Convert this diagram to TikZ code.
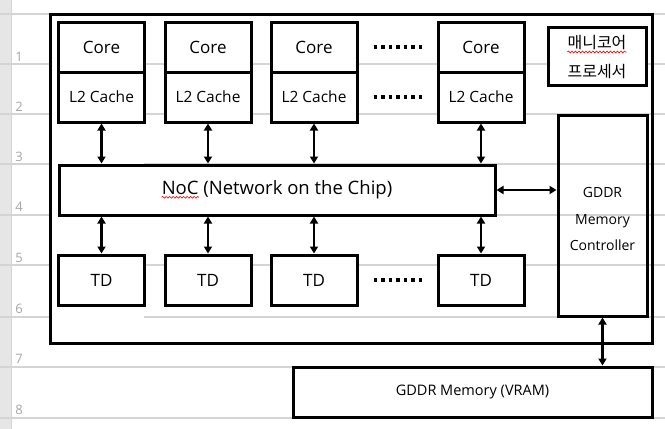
\documentclass[tikz,border=0pt]{standalone}
\usepackage{fontspec}
\setmainfont{Open Sans}
\newfontfamily\krfont{Noto Sans CJK KR}
\usetikzlibrary{arrows.meta,decorations.pathmorphing}
\definecolor{gridc}{HTML}{D4D4D4}
\definecolor{hdrc}{HTML}{E6E6E6}
\definecolor{hdrtxt}{HTML}{A6A6A6}
\tikzset{
  blk/.style={draw, line width=3pt, inner sep=0pt, fill=white},
  cellbox/.style={blk, minimum width=86, minimum height=50},
  coretxt/.style={font=\fontsize{17}{20}\selectfont},
  l2txt/.style={font=\fontsize{15.5}{18}\selectfont},
  dbl/.style={{Triangle[length=7pt,width=8pt]}-{Triangle[length=7pt,width=8pt]}, line width=2.5pt},
  dotsline/.style={line width=3.5pt, dash pattern=on 3.5pt off 4pt},
  gridline/.style={gridc, line width=1.5pt},
  rownum/.style={text=hdrtxt, font=\fontsize{13}{15}\selectfont, anchor=base, inner sep=0pt},
  squig/.style={red, line width=0.6pt, decorate, decoration={snake, segment length=3.5pt, amplitude=0.9pt}},
  nocfont/.style={font=\fontsize{18.5}{22}\selectfont},
  krtxt/.style={font=\krfont\fontsize{16}{19}\selectfont, inner sep=0pt}
}
\begin{document}
\begin{tikzpicture}[x=1pt,y=-1pt]
\useasboundingbox (0,0) rectangle (665,429);
\fill[white] (0,0) rectangle (665,429);
\fill[hdrc] (0,0) rectangle (11,429);
\draw[gridc, line width=1pt] (11,0) -- (11,429);
\foreach \yy in {14,64,114,164,215,265,317,367,418}
  \draw[gridline] (0,\yy) -- (665,\yy);
\foreach \n/\yy in {1/61,2/111,3/161,4/211,5/262,6/313,7/363,8/414}
  \node[rownum] (r\n) at (19,\yy) {\n};
\fill[white] (50,14) rectangle (144,343);
% outer frame
\node[draw, line width=3pt, inner sep=0pt, minimum width=602, minimum height=329] (outer) at (351,178.5) {};
% cores
\foreach \i/\cx in {1/101.5,2/208,3/314,4/481}{
  \node[cellbox, coretxt] (core\i) at (\cx,47) {Core};
  \node[cellbox, l2txt] (l2\i) at (\cx,97) {L2 Cache};
  \node[cellbox, coretxt] (td\i) at (\cx,280) {TD};
}
% NoC
\node[blk, minimum width=436, minimum height=50] (noc) at (277,190) {};
\node[nocfont, inner sep=0pt] (noclbl) at (noc.center) {NoC (Network on the Chip)};
\node[nocfont, inner sep=0pt, anchor=base west] (nocword) at (noclbl.base west) {\phantom{NoC}};
\draw[squig] ([yshift=-2.5pt]nocword.base west) -- ([yshift=-2.5pt]nocword.base east);
% many-core label
\node[blk, minimum width=98, minimum height=58] (mc) at (597,56) {};
\node[krtxt] (mc1) at (597,43) {매니코어};
\node[krtxt] (mc2) at (597,72) {프로세서};
\draw[squig] ([yshift=-3pt]mc1.base west) -- ([yshift=-3pt]mc1.base east);
% controller
\node[draw, line width=3pt, inner sep=0pt, minimum width=89, minimum height=201] (ctrl) at (602.5,215.5) {};
\node[align=center, inner sep=0pt, font=\fontsize{14}{26.5}\selectfont] (ctrltxt) at (602.5,219) {GDDR\\Memory\\Controller};
% VRAM
\node[blk, minimum width=359, minimum height=50, font=\fontsize{14.5}{17}\selectfont] (vram) at (472.5,392) {GDDR Memory (VRAM)};
% dots
\draw[dotsline] ([xshift=15pt]core3.east) -- ([xshift=-11pt]core4.west);
\draw[dotsline] ([xshift=15pt]l23.east) -- ([xshift=-11pt]l24.west);
\draw[dotsline] ([xshift=15pt]td3.east) -- ([xshift=-11pt]td4.west);
% arrows
\foreach \i in {1,2,3,4}{
  \draw[dbl] (l2\i.south) -- (l2\i.south |- noc.north);
  \draw[dbl] (td\i.north |- noc.south) -- (td\i.north);
}
\draw[dbl] (noc.east) -- (noc.east -| ctrl.west);
\draw[dbl] (ctrl.south) -- (ctrl.south |- vram.north);
\end{tikzpicture}
\end{document}
